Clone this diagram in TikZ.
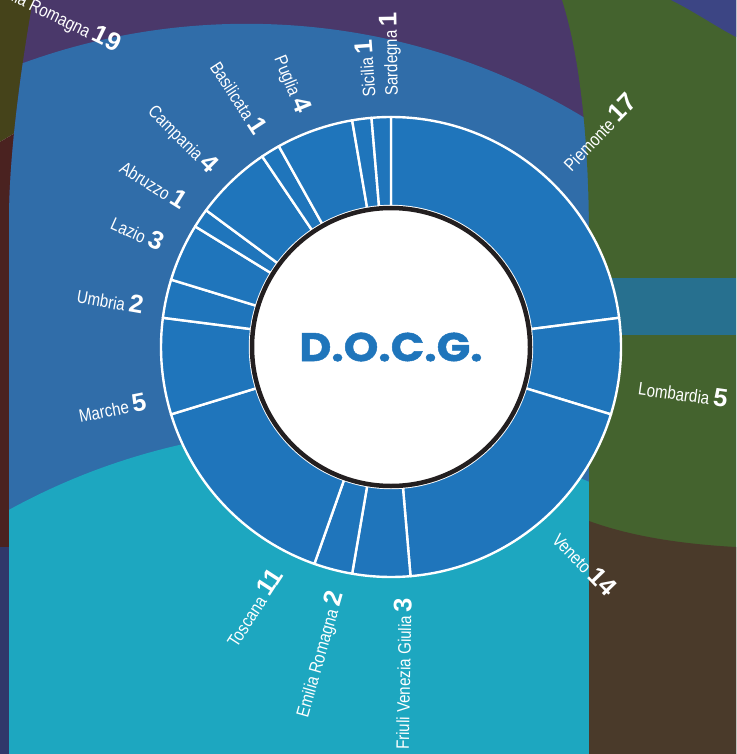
\documentclass[tikz,border=0pt]{standalone}
\usepackage{fontspec}
\setmainfont{Liberation Sans}
\newfontfamily\namefont[FakeStretch=0.84]{Liberation Sans}
\newfontfamily\docgfont[FakeStretch=1.1, BoldFeatures={FakeBold=1.2}]{Poppins}
\usetikzlibrary{calc}

\definecolor{bgpurple}{HTML}{4A386A}
\definecolor{bgolive}{HTML}{45431A}
\definecolor{bgred}{HTML}{4A2220}
\definecolor{bgnavy}{HTML}{30386A}
\definecolor{bgblue}{HTML}{306DA9}
\definecolor{bgcyan}{HTML}{1DA7C0}
\definecolor{bggreen}{HTML}{44632E}
\definecolor{bgteal}{HTML}{27708F}
\definecolor{bgbrown}{HTML}{4A3A2A}
\definecolor{bgnavytop}{HTML}{3C4584}
\definecolor{ringblue}{HTML}{1F75BB}
\definecolor{ringblack}{HTML}{231F20}

\def\ringin{141pt}
\def\ringout{230pt}
\def\lblrad{251pt}
\tikzset{
  slice/.style={fill=ringblue, draw=white, line width=2.4pt, line join=round},
  regionlbl/.style={text=white, inner sep=0pt, outer sep=0pt},
}
\def\drawslice#1#2{%
  \draw [slice] (#1:\ringin) -- (#1:\ringout)
  arc [start angle=#1, end angle=#2, radius=\ringout]
  -- (#2:\ringin)
  arc [start angle=#2, end angle=#1, radius=\ringin] -- cycle;
}
\def\drawlabel#1#2#3#4#5#6{%
  \node [regionlbl, anchor=#4, rotate=#3] (#1) at (#2:\lblrad)
  {{\namefont\fontsize{18}{18}\selectfont #5}\hspace{4pt}%
   {\bfseries\fontsize{25.5}{25.5}\selectfont #6}};
}

\begin{document}
\begin{tikzpicture}[x=1pt, y=1pt]
  \useasboundingbox (0,0) rectangle (736,-754);
  \clip (0,0) rectangle (736,-754);

  % background regions
  \begin{scope}[yscale=-1]
    \fill [bgolive] (0,0) -- (40,0) -- (40,118) -- (0,142) -- cycle;
    \fill [bgred] (0,142) -- (40,118) -- (40,547) -- (0,547) -- cycle;
    \fill [bgnavy] (0,547) rectangle (40,754);
    \fill [bgpurple] (33,0) .. controls (23,55) and (9,150) .. (9,220)
      -- (9,754) -- (736,754) -- (736,0) -- cycle;
    \begin{scope}
      \clip (33,0) .. controls (23,55) and (9,150) .. (9,220)
        -- (9,754) -- (600,754) -- (600,0) -- cycle;
      \fill [bgblue] (246.7,677.3) circle [radius=653.5];
      \fill [bgcyan] (327.7,1091.1) circle [radius=662.8];
    \end{scope}
    \fill [bggreen] (562,0) .. controls (578,50) and (589,130) .. (589,240)
      -- (589,754) -- (736,754) -- (736,0) -- cycle;
    \fill [bgteal] (589,278) rectangle (736,335);
    \fill [bgbrown] (589,521) .. controls (630,536) and (680,544) .. (736,547)
      -- (736,754) -- (589,754) -- cycle;
    \fill [bgnavytop] (671,0) .. controls (695,12) and (715,26) .. (736,37)
      -- (736,0) -- cycle;
  \end{scope}

  \node [regionlbl, anchor=east, rotate=-26] (emiliaouter) at (119,-46)
  {{\namefont\fontsize{18}{18}\selectfont Emilia Romagna}\hspace{4pt}%
   {\bfseries\fontsize{25.5}{25.5}\selectfont 19}};

  % the ring
  \begin{scope}[shift={(391,-347)}]
    \drawslice{90}{7.297}
    \drawslice{7.297}{-17.027}
    \drawslice{-17.027}{-85.135}
    \drawslice{-85.135}{-99.730}
    \drawslice{-99.730}{-109.459}
    \drawslice{-109.459}{-162.973}
    \drawslice{-162.973}{-187.297}
    \drawslice{-187.297}{-197.027}
    \drawslice{-197.027}{-211.622}
    \drawslice{-211.622}{-216.486}
    \drawslice{-216.486}{-235.946}
    \drawslice{-235.946}{-240.811}
    \drawslice{-240.811}{-260.270}
    \drawslice{-260.270}{-265.135}
    \drawslice{-265.135}{-270}

    \draw [fill=white, draw=ringblack, line width=4.5pt] (0,0) circle [radius=139pt];
    \node [text=ringblue, font=\docgfont\bfseries\fontsize{40}{40}\selectfont] (docg) at (0,0) {D.O.C.G.};

    \drawlabel{piemonte}{46}{46}{west}{Piemonte}{17}
    \drawlabel{lombardia}{-9}{-8}{west}{Lombardia}{5}
    \drawlabel{veneto}{-48.5}{-46}{west}{Veneto}{14}
    \drawlabel{friuli}{-87.3}{89}{east}{Friuli Venezia Giulia}{3}
    \drawlabel{emilia}{-102.5}{74}{east}{Emilia Romagna}{2}
    \drawlabel{toscana}{-117}{57}{east}{Toscana}{11}
    \drawlabel{marche}{-167.5}{11}{east}{Marche}{5}
    \drawlabel{umbria}{170.5}{-10}{east}{Umbria}{2}
    \drawlabel{lazio}{155.5}{-24}{east}{Lazio}{3}
    \drawlabel{abruzzo}{145}{-32}{east}{Abruzzo}{1}
    \drawlabel{campania}{135}{-45}{east}{Campania}{4}
    \drawlabel{basilicata}{121}{-57}{east}{Basilicata}{1}
    \drawlabel{puglia}{110.5}{-68}{east}{Puglia}{4}
    \drawlabel{sicilia}{95.5}{94}{west}{Sicilia}{1}
    \drawlabel{sardegna}{90}{91}{west}{Sardegna}{1}
  \end{scope}

\end{tikzpicture}
\end{document}
